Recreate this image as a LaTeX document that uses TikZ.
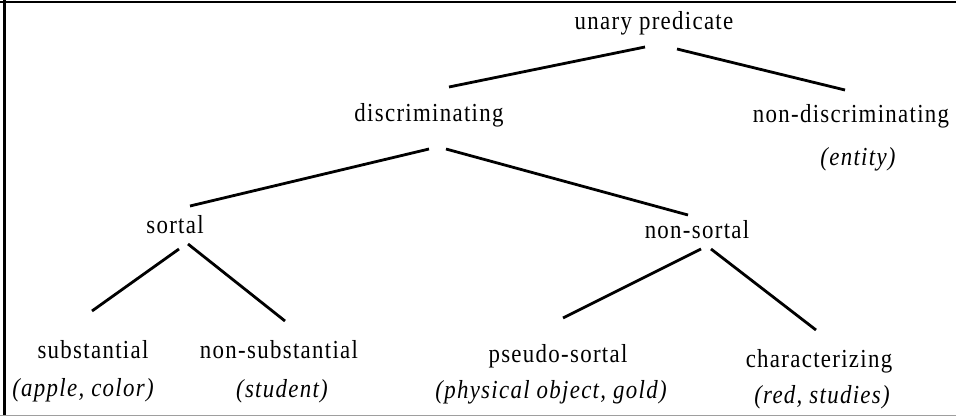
\documentclass[tikz,border=0pt]{standalone}
\usepackage{fontspec}
\setmainfont{Liberation Serif}[LetterSpace=5, FakeStretch=0.88]
\usetikzlibrary{calc}
\begin{document}
\begin{tikzpicture}[x=1pt,y=-1pt,
  lbl/.style={inner sep=0pt, anchor=base, font=\fontsize{26}{30}\selectfont},
  ex/.style={inner sep=0pt, anchor=base, font=\fontsize{26}{30}\selectfont\itshape},
  edge/.style={line width=2.8pt},
  frame/.style={line width=2.5pt, black},
  baseline rule/.style={line width=1.5pt, black!38}]
\useasboundingbox (0,0) rectangle (956,417);
% frame
\coordinate (tl) at (0,2.2);
\coordinate (tr) at (956,2.2);
\coordinate (lt) at (4.5,0);
\coordinate (lb) at (4.5,415);
\coordinate (bl) at (0,415.5);
\coordinate (br) at (956,415.5);
\draw[frame] (tl) -- (tr);
\draw[frame] (lt) -- (lb);
\draw[baseline rule] (bl) -- (br);
% labels
\node[lbl] (unary) at (654,30) {unary predicate};
\node[lbl] (disc) at (429,122) {discriminating};
\node[lbl] (nondisc) at (851,123) {non-discriminating};
\node[ex] (entity) at (858,165) {(entity)};
\node[lbl] (sortal) at (175,233) {sortal};
\node[lbl] (nonsortal) at (697,238) {non-sortal};
\node[lbl] (subst) at (93,358) {substantial};
\node[ex] (apple) at (83,396) {(apple, color)};
\node[lbl] (nonsubst) at (279,358) {non-substantial};
\node[ex] (student) at (282,397) {(student)};
\node[lbl] (pseudo) at (558,362) {pseudo-sortal};
\node[ex] (phys) at (551,398) {(physical object, gold)};
\node[lbl] (charact) at (819,367) {characterizing};
\node[ex] (red) at (822,403) {(red, studies)};
% connectors
\draw[edge] ($(unary.base)+(-9,17)$) -- ($(disc.base)+(20,-35)$);
\draw[edge] ($(unary.base)+(23,19)$) -- ($(nondisc.base)+(-6,-33)$);
\draw[edge] ($(disc.base)+(0,27)$) -- ($(sortal.base)+(15,-27)$);
\draw[edge] ($(disc.base)+(17,27)$) -- ($(nonsortal.base)+(-9,-23)$);
\draw[edge] ($(sortal.base)+(4,16)$) -- ($(subst.base)+(-1,-47)$);
\draw[edge] ($(sortal.base)+(13,11)$) -- ($(nonsubst.base)+(6,-37)$);
\draw[edge] ($(nonsortal.base)+(4,11)$) -- ($(pseudo.base)+(5,-44)$);
\draw[edge] ($(nonsortal.base)+(14,11)$) -- ($(charact.base)+(-3,-37)$);
\end{tikzpicture}
\end{document}
